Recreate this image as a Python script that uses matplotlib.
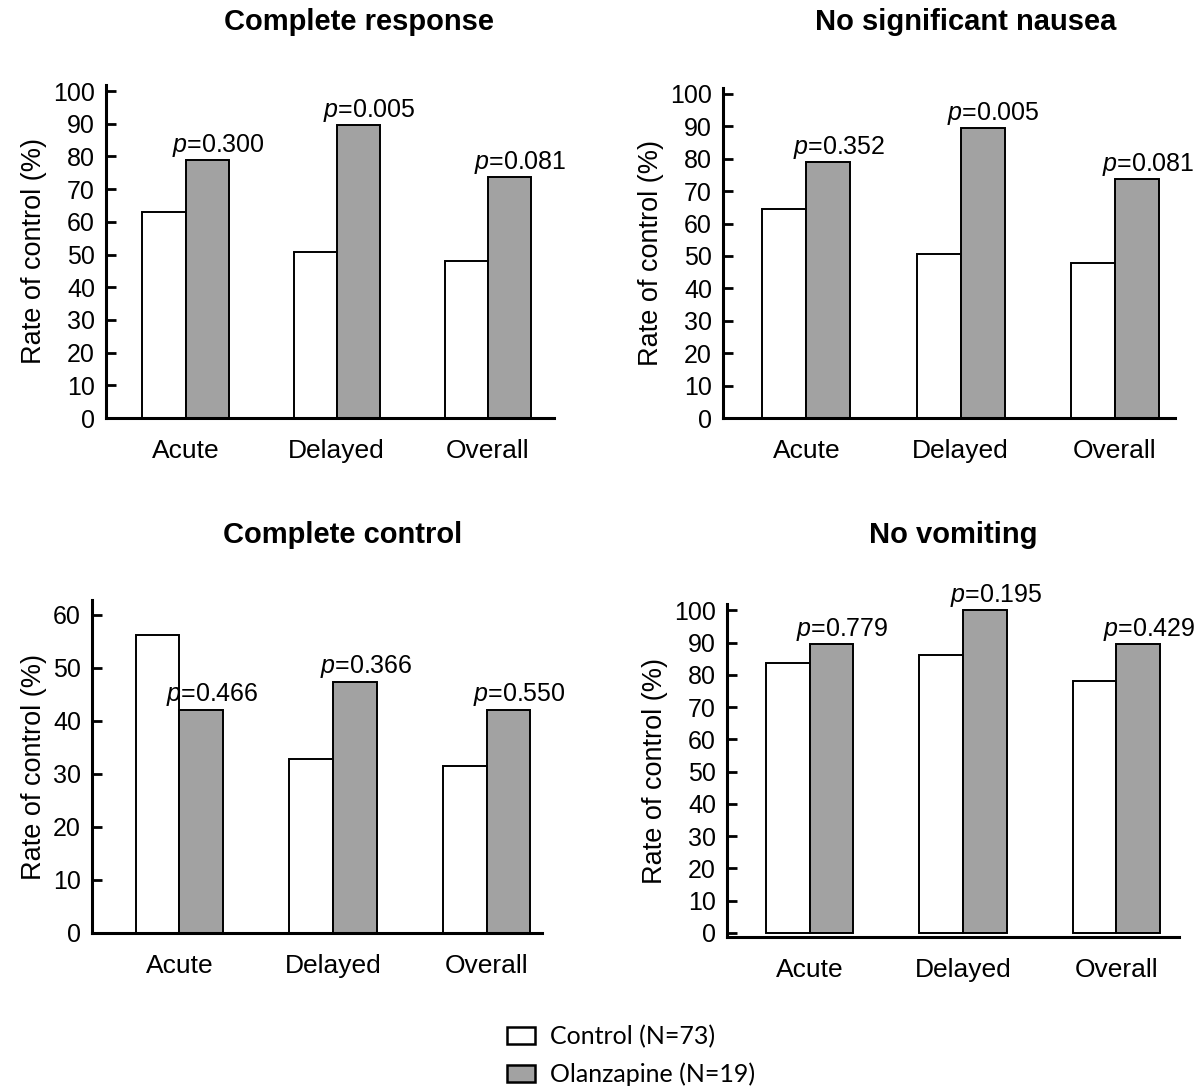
import matplotlib
matplotlib.use("Agg")
import matplotlib.pyplot as plt
from matplotlib.patches import Patch
import numpy as np

# data
phases = ["Acute", "Delayed", "Overall"]
titles = ["Complete response", "No significant nausea", "Complete control", "No vomiting"]

control_cr = [63.0, 50.7, 47.9]
olanz_cr = [78.9, 89.5, 73.7]
pvals_cr = ["0.300", "0.005", "0.081"]

control_nsn = [64.4, 50.7, 47.9]
olanz_nsn = [78.9, 89.5, 73.7]
pvals_nsn = ["0.352", "0.005", "0.081"]

control_cc = [56.2, 32.9, 31.5]
olanz_cc = [42.1, 47.4, 42.1]
pvals_cc = ["0.466", "0.366", "0.550"]

control_nv = [83.6, 86.3, 78.1]
olanz_nv = [89.5, 100.0, 89.5]
pvals_nv = ["0.779", "0.195", "0.429"]

labels = ["Control (N=73)", "Olanzapine (N=19)"]

GRAY = "#a2a2a2"
plt.rcParams["font.family"] = ["Liberation Sans", "DejaVu Sans"]
plt.rcParams["mathtext.fontset"] = "custom"
plt.rcParams["mathtext.it"] = "Liberation Sans:italic"

fig = plt.figure(figsize=(11.97, 10.9), dpi=100)
W, H = 1197, 1090

# panel boxes in pixels: left, right, y of ylim bottom, y of ylim top
panels = [
    dict(box=(106, 554, 418, 84.5), xlim=(-0.526, 2.437), ylim=(0, 102), yt=range(0, 101, 10),
         ctrl=control_cr, olz=olanz_cr, p=pvals_cr, title=titles[0], tpos=(359, 22)),
    dict(box=(723, 1175, 418, 87.5), xlim=(-0.54, 2.39), ylim=(0, 102), yt=range(0, 101, 10),
         ctrl=control_nsn, olz=olanz_nsn, p=pvals_nsn, title=titles[1], tpos=(966, 22)),
    dict(box=(92, 542, 933, 600), xlim=(-0.569, 2.36), ylim=(0, 62.8), yt=range(0, 61, 10),
         ctrl=control_cc, olz=olanz_cc, p=pvals_cc, title=titles[2], tpos=(343, 535)),
    dict(box=(727, 1179, 937, 604), xlim=(-0.54, 2.41), ylim=(-1.3, 102), yt=range(0, 101, 10),
         ctrl=control_nv, olz=olanz_nv, p=pvals_nv, title=titles[3], tpos=(953, 535)),
]

width = 0.285
x = np.arange(len(phases))

for pn in panels:
    l, r, yb, yt_ = pn["box"]
    ax = fig.add_axes([l / W, 1 - yb / H, (r - l) / W, (yb - yt_) / H])
    ax.bar(x - width / 2, pn["ctrl"], width, color="white", edgecolor="black", linewidth=1.4, zorder=2)
    ax.bar(x + width / 2, pn["olz"], width, color=GRAY, edgecolor="black", linewidth=1.4, zorder=2)
    for xi, v, p in zip(x, pn["olz"], pn["p"]):
        ax.annotate(r"$\it{p}$" + "=" + p, (xi + width / 2, v), xytext=(8, 6),
                    textcoords="offset points", ha="center", va="baseline", fontsize=18)
    ax.set_xlim(*pn["xlim"])
    ax.set_ylim(*pn["ylim"])
    ax.set_yticks(list(pn["yt"]))
    ax.set_xticks(x)
    ax.set_xticklabels(phases, fontsize=19)
    ax.tick_params(axis="x", length=0, pad=15)
    ax.tick_params(axis="y", direction="in", length=7, width=2, pad=8, labelsize=18)
    for s in ["top", "right"]:
        ax.spines[s].set_visible(False)
    for s in ["left", "bottom"]:
        ax.spines[s].set_linewidth(2.2)
    ax.set_ylabel("Rate of control (%)", fontsize=19.5, labelpad=4)
    fig.text(pn["tpos"][0] / W, 1 - pn["tpos"][1] / H, pn["title"], ha="center", va="center",
             fontsize=21, fontweight="bold")

handles = [Patch(facecolor="white", edgecolor="black", linewidth=1.8),
           Patch(facecolor=GRAY, edgecolor="black", linewidth=1.8)]
fig.legend(handles, labels, loc="center left", bbox_to_anchor=(507 / W, 1 - 1055.5 / H), frameon=False,
           prop={"family": ["Lato", "DejaVu Sans"], "size": 18}, handlelength=1.12, handleheight=0.68,
           handletextpad=0.6, labelspacing=0.6, borderpad=0, borderaxespad=0)

fig.savefig("out.png", dpi=100)
